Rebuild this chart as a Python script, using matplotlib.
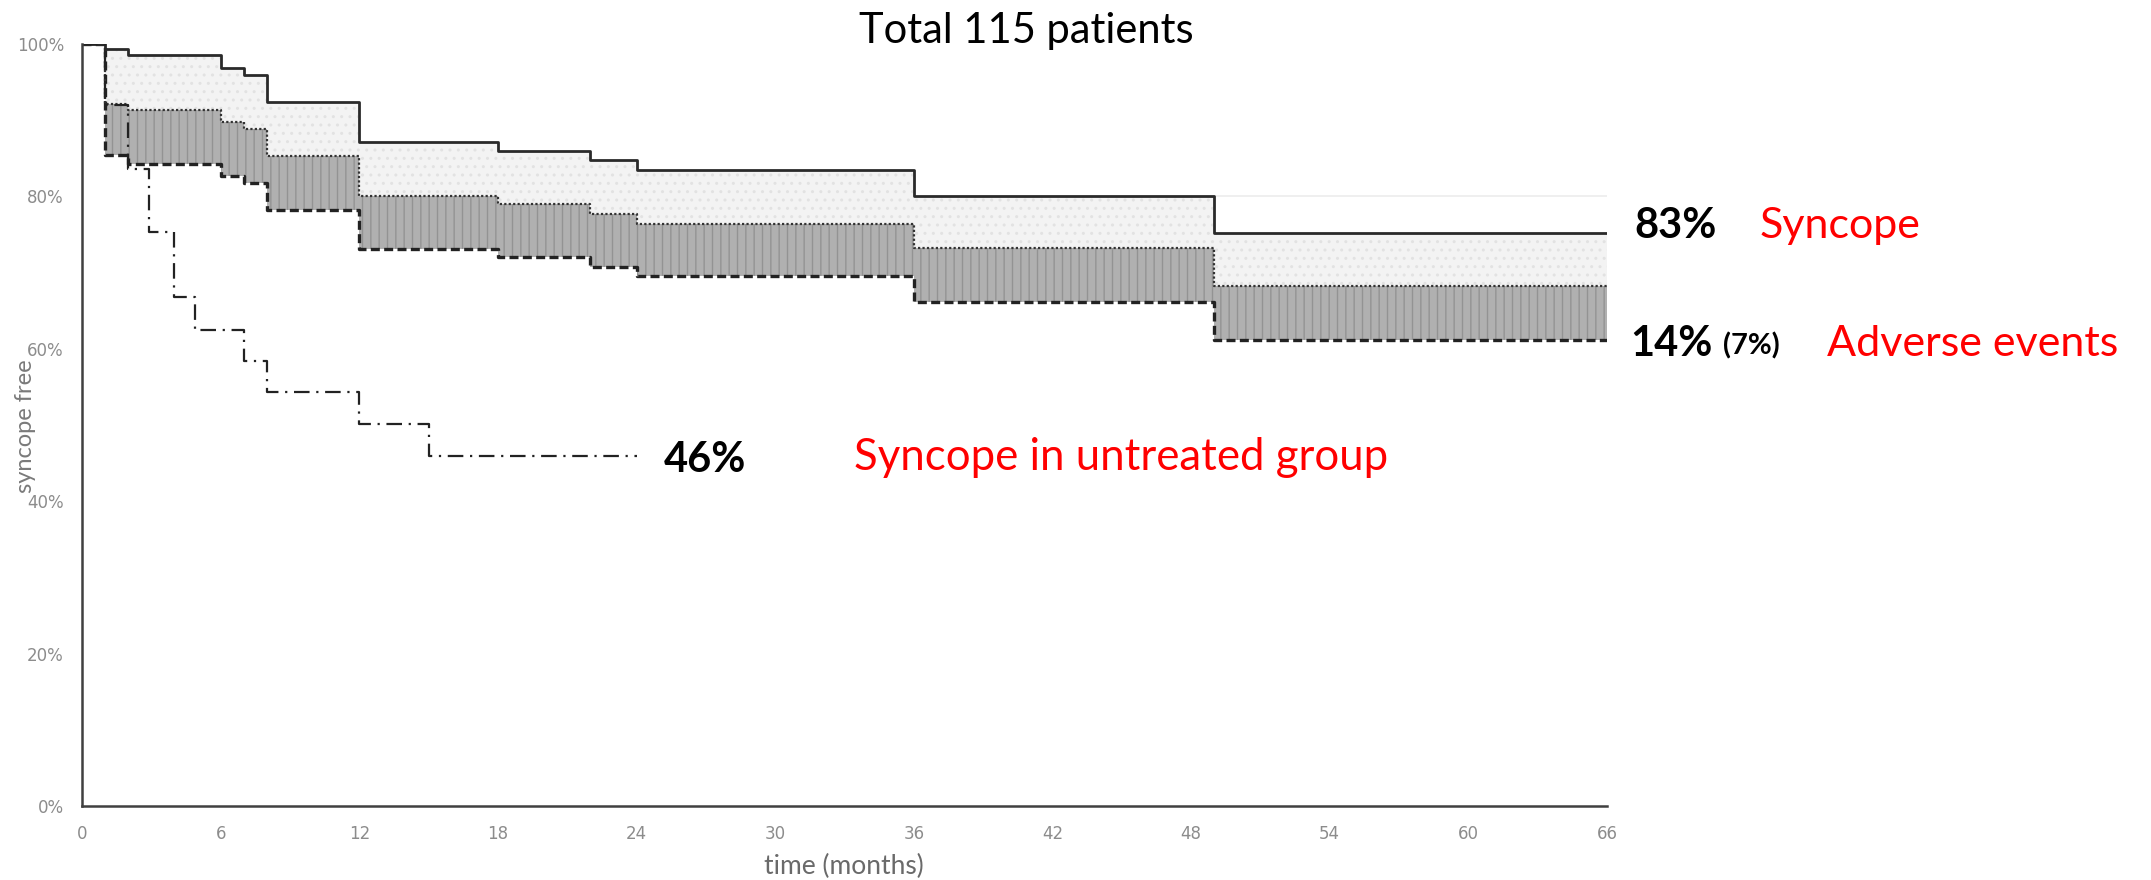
import matplotlib
matplotlib.use("Agg")
import matplotlib.pyplot as plt
from matplotlib.ticker import FuncFormatter

# Kaplan-Meier style step data (months, % syncope free)
months = [0, 1, 2, 6, 7, 8, 12, 18, 22, 24, 36, 49, 66]
syncope_free = [100, 99.3, 98.5, 96.8, 95.9, 92.4, 87.1, 86.0, 84.8, 83.5, 80.1, 75.2, 75.2]
band_upper = [100, 92.1, 91.3, 89.7, 88.8, 85.3, 80.0, 79.0, 77.7, 76.4, 73.2, 68.2, 68.2]
band_lower = [100, 85.4, 84.3, 82.7, 81.8, 78.2, 73.1, 72.0, 70.7, 69.5, 66.2, 61.2, 61.2]

untreated_months = [0, 1, 2, 2.9, 4, 4.9, 7, 8, 12, 15, 24]
untreated_free = [100, 92.0, 83.6, 75.3, 66.8, 62.5, 58.4, 54.3, 50.1, 45.9, 45.9]

# faint leftover line after the last drop
ghost_months = [49, 66]
ghost_level = [80.1, 80.1]

x_ticks = list(range(0, 67, 6))
y_ticks = [0, 20, 40, 60, 80, 100]

plt.rcParams["hatch.linewidth"] = 1.0

fig = plt.figure(figsize=(21.51, 8.8), dpi=100)
ax = fig.add_axes([82 / 2151, 1 - 806 / 880, (1607 - 82) / 2151, (806 - 44) / 880])

# shaded bands
ax.fill_between(months, syncope_free, band_upper, step="post",
                facecolor="#f3f3f3", edgecolor="#e2e2e2", hatch="..", linewidth=0)
ax.fill_between(months, band_upper, band_lower, step="post",
                facecolor="#b0b0b0", edgecolor="#939393", hatch="||", linewidth=0)

ax.plot(ghost_months, ghost_level, color="#ececec", lw=1.2)

ax.step(months, band_lower, where="post", color="#222222", lw=2.4,
        linestyle=(0, (2.7, 1.3)))
ax.step(months, band_upper, where="post", color="#333333", lw=1.6,
        linestyle=(0, (1, 1)))
ax.step(months, syncope_free, where="post", color="#2a2a2a", lw=2.0)
ax.step(untreated_months, untreated_free, where="post", color="#222222", lw=1.6,
        linestyle=(0, (7, 3, 1, 3)))

ax.set_xlim(0, 66)
ax.set_ylim(0, 100)
ax.set_xticks(x_ticks)
ax.set_yticks(y_ticks)
ax.yaxis.set_major_formatter(FuncFormatter(lambda v, p: f"{int(v)}%"))
ax.tick_params(axis="both", length=0, labelcolor="#8c8c8c", labelsize=12)
ax.tick_params(axis="x", pad=14)
ax.tick_params(axis="y", pad=13)
for side in ["top", "right"]:
    ax.spines[side].set_visible(False)
for side in ["left", "bottom"]:
    ax.spines[side].set_color("#404040")
    ax.spines[side].set_linewidth(1.8)

fig.text(26 / 2151, 1 - 426 / 880, "syncope free", rotation=90, ha="center",
         va="center", color="#7a7a7a", fontsize=17, family="Lato")
fig.text(844 / 2151, 1 - 866 / 880, "time (months)", ha="center", va="center",
         color="#6a6a6a", fontsize=19, family="Lato")
fig.text(1026 / 2151, 1 - 31 / 880, "Total 115 patients", ha="center", va="center",
         color="black", fontsize=30, family="Lato")

# annotations right of the curves
bold = dict(color="black", fontweight="bold", family="Lato", va="center", clip_on=False)
red = dict(color="red", family="Lato", va="center", clip_on=False)
ax.text(67.2, 76.1, "83%", fontsize=30, **bold)
ax.text(72.6, 76.1, "Syncope", fontsize=31, **red)
ax.text(67.0, 60.6, "14%", fontsize=30, **bold)
ax.text(71.0, 60.4, "(7%)", fontsize=21, **bold)
ax.text(75.5, 60.6, "Adverse events", fontsize=31, **red)
ax.text(25.2, 45.4, "46%", fontsize=30, **bold)
ax.text(33.4, 45.8, "Syncope in untreated group", fontsize=31.5, **red)

fig.savefig("out.png", dpi=100, facecolor="white")
